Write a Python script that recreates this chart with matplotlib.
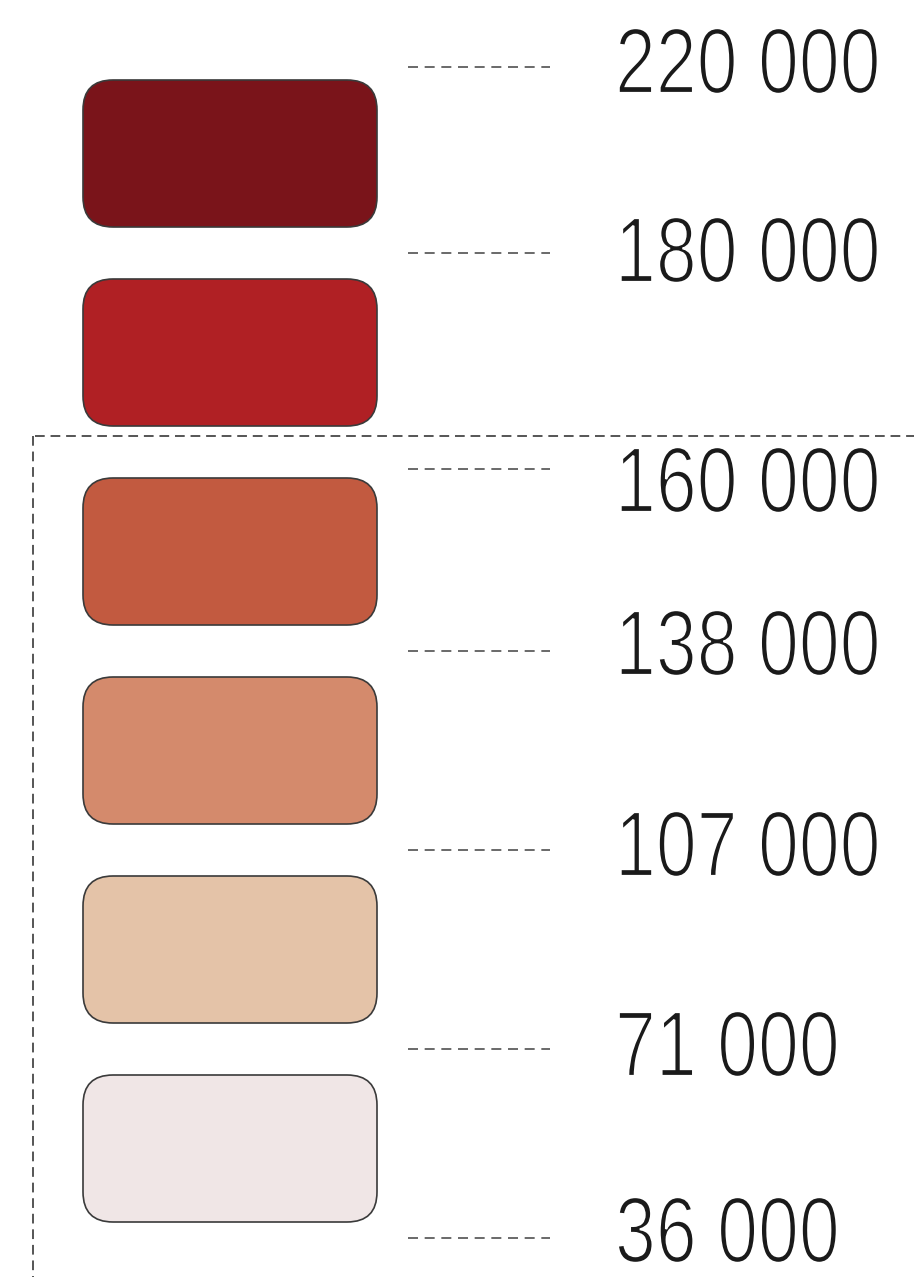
import matplotlib
matplotlib.use("Agg")
import matplotlib.pyplot as plt
from matplotlib.patches import FancyBboxPatch, PathPatch
from matplotlib.textpath import TextPath
from matplotlib.font_manager import FontProperties
from matplotlib.transforms import Affine2D

# class break values (top to bottom) and class colours
breaks = [220000, 180000, 160000, 138000, 107000, 71000, 36000]
colors = ["#7a141a", "#b02024", "#c25a40", "#d48a6c", "#e4c3a8", "#f0e6e6"]

W, H = 914, 1277
fig = plt.figure(figsize=(W / 100, H / 100), dpi=100)
ax = fig.add_axes([0, 0, 1, 1])
ax.set_xlim(0, W)
ax.set_ylim(H, 0)
ax.axis("off")

box_x, box_w, box_h = 83, 294, 147
top0, pitch = 80, 199

for i, c in enumerate(colors):
    y = top0 + i * pitch
    ax.add_patch(FancyBboxPatch((box_x, y), box_w, box_h,
                                boxstyle="round,pad=0,rounding_size=30",
                                facecolor=c, edgecolor="#3a3a3a", linewidth=1.2))

# no condensed face installed, so squeeze the glyph outlines horizontally
fp = FontProperties(family="Liberation Sans")
text_size = 93      # px, gives ~66 px tall digits
squeeze = 0.79

# tick marks sit between boxes; small nudges follow the reference layout
tick_nudge = [13, 0, 17, 0, 0, 0, -10]
# label baseline offset below its tick
base_off = [26, 29, 43, 24, 26, 27, 24]
for j, v in enumerate(breaks):
    ty = top0 + j * pitch - (pitch - box_h) / 2 + tick_nudge[j]
    ax.plot([408, 550], [ty, ty], color="#505050", linewidth=1.2,
            linestyle=(0, (6, 4)))
    label = f"{v:,}".replace(",", " ")
    tp = TextPath((0, 0), label, size=text_size, prop=fp)
    tr = Affine2D().scale(squeeze, -1).translate(615, ty + base_off[j])
    # white outline thins the strokes toward the light reference weight
    ax.add_patch(PathPatch(tr.transform_path(tp), facecolor="#1a1a1a",
                           edgecolor="white", linewidth=1.6))

# dashed frame around the lower classes
frame_y = 436
ax.plot([35, W], [frame_y, frame_y], color="#555555", linewidth=1.4,
        linestyle=(0, (5, 3)))
ax.plot([33, 33], [frame_y, H], color="#555555", linewidth=1.4,
        linestyle=(0, (5, 3)))

fig.savefig("out.png", dpi=100)
